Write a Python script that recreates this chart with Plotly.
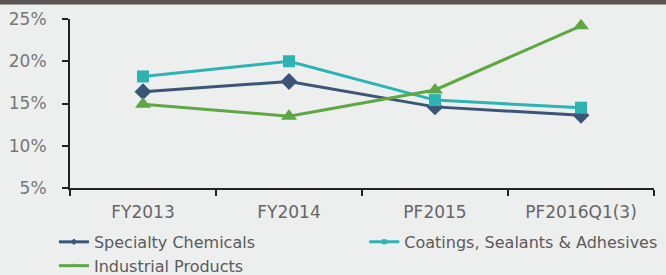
import plotly.graph_objects as go

categories = ["FY2013", "FY2014", "PF2015", "PF2016Q1(3)"]
specialty = [16.4, 17.6, 14.6, 13.6]
coatings = [18.2, 20.0, 15.4, 14.5]
industrial = [14.9, 13.5, 16.6, 24.2]
y_ticks = [5, 10, 15, 20, 25]
y_tick_labels = ["5%", "10%", "15%", "20%", "25%"]

FONT = "DejaVu Sans"
W, H = 666, 275
ML, MR, MT, MB = 70, 12, 19, 87
PH = H - MT - MB

series = [
    ("Specialty Chemicals", specialty, "#3A5577", "diamond", 13, "legend"),
    ("Coatings, Sealants & Adhesives", coatings, "#2EB3B3", "square", 12, "legend2"),
    ("Industrial Products", industrial, "#5EA744", "triangle-up", 14, "legend"),
]

fig = go.Figure()
for name, vals, color, sym, size, leg in series:
    fig.add_trace(go.Scatter(x=categories, y=vals, name=name, mode="lines+markers",
                             line=dict(color=color, width=3),
                             marker=dict(symbol=sym, size=size, color=color),
                             showlegend=False, hoverinfo="skip"))
for name, vals, color, sym, size, leg in series:
    # legend-only entry with small marker, as in the reference legend
    fig.add_trace(go.Scatter(x=[None], y=[None], name=name, mode="lines+markers",
                             line=dict(color=color, width=3),
                             marker=dict(symbol=sym, size=5, color=color),
                             legend=leg, showlegend=True))

leg_font = dict(family=FONT, size=16, color="#5A5A5A")
fig.update_layout(
    width=W, height=H,
    margin=dict(l=ML, r=MR, t=MT, b=MB, autoexpand=False),
    paper_bgcolor="#EDEEEE", plot_bgcolor="#EDEEEE",
    font=dict(family=FONT, size=16, color="#666666"),
    showlegend=True,
    legend=dict(orientation="v", xref="container", yref="container", x=0.081, xanchor="left",
                y=0.182, yanchor="top", font=leg_font, bgcolor="rgba(0,0,0,0)",
                tracegroupgap=0, itemwidth=30),
    legend2=dict(orientation="v", xref="container", yref="container", x=0.547, xanchor="left",
                 y=0.182, yanchor="top", font=leg_font, bgcolor="rgba(0,0,0,0)",
                 tracegroupgap=0, itemwidth=30),
    shapes=[dict(type="rect", xref="paper", yref="paper", x0=-0.2, x1=1.2,
                 y0=1 + (MT - 4.5) / PH, y1=1 + (MT + 5) / PH, line=dict(width=0),
                 fillcolor="#5B5654", layer="above")],
)
fig.update_xaxes(type="category", range=[-0.5, 3.5], showline=True, linecolor="#222222", linewidth=2,
                 ticks="outside", tickson="boundaries", ticklen=6, tickwidth=2, tickcolor="#222222",
                 showgrid=False, zeroline=False, tickfont=dict(size=17, color="#666666"),
                 ticklabelstandoff=8)
fig.update_yaxes(range=[5, 25], tickvals=y_ticks, ticktext=y_tick_labels, showline=True,
                 linecolor="#222222", linewidth=2, ticks="outside", ticklen=6, tickwidth=2,
                 tickcolor="#222222", showgrid=False, zeroline=False,
                 tickfont=dict(size=17, color="#777777"), ticklabelstandoff=12)

fig.write_html("out.html", config={"displayModeBar": False},
               post_script="document.body.style.margin='0';")
